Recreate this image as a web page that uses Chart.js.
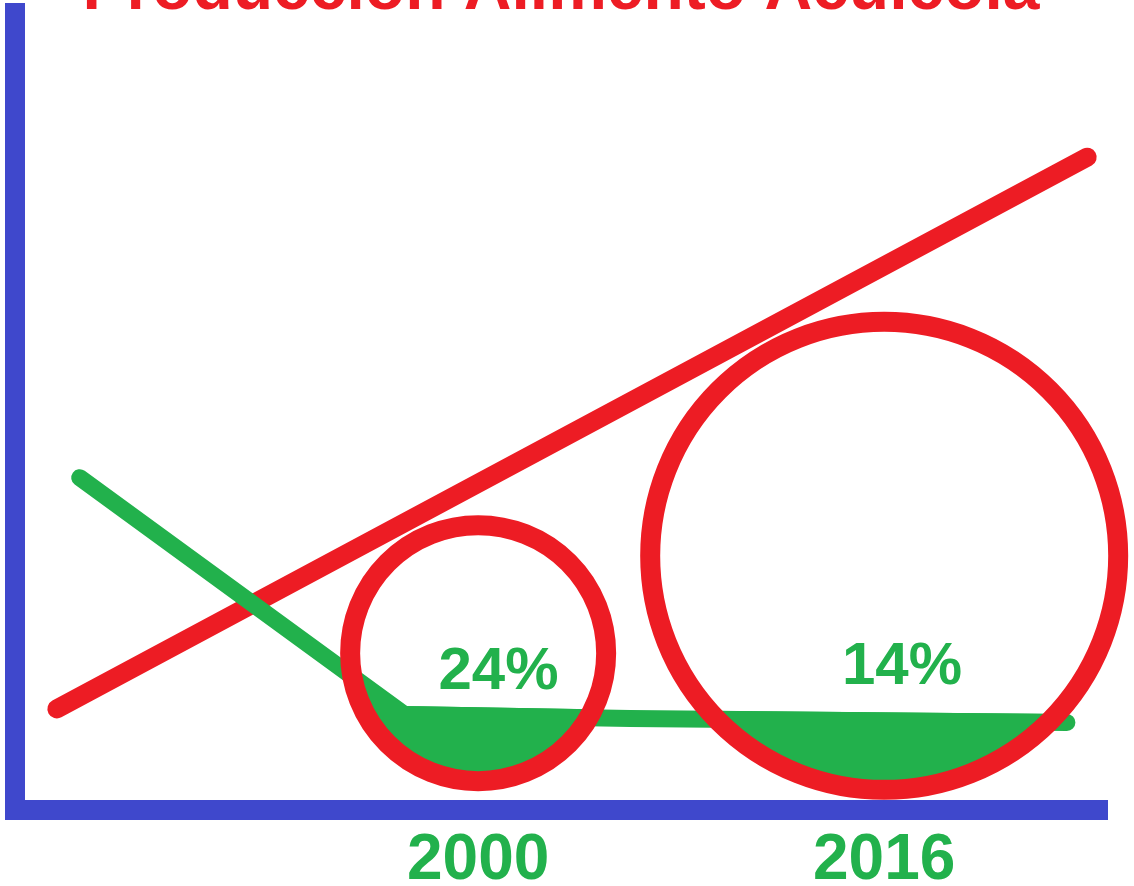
<!DOCTYPE html>
<html>
<head>
<meta charset="utf-8">
<title>Producción Alimento Acuícola</title>
<script src="https://cdn.jsdelivr.net/npm/chart.js@4.4.1/dist/chart.umd.min.js"></script>
<style>
  html, body { margin: 0; padding: 0; background: #fff; overflow: hidden; width: 1134px; height: 886px; }
  #wrap { position: absolute; left: 0; top: -32px; width: 1134px; height: 945px; }
</style>
</head>
<body>
<div id="wrap"><canvas id="graph" width="1134" height="945"></canvas></div>
<script>
const RED = "#ed1c24";
const GREEN = "#22b14c";
const BLUE = "#3f48cc";
const FONT = "'Liberation Sans', Arial, sans-serif";

// x ticks and highlighted years
const tickYears = [2000, 2016];
const circleY = [19.7, 31.9];
const shareLabels = ["24%", "14%"];
const shareX = [2000.8, 2016.7];
const shareY = [17.3, 17.9];

// red trend line (total production)
const trendX = [1983.4, 2024.0];
const trendY = [12.7, 81.9];

// green line (feed share)
const feedX = [1984.3, 1997.1, 2006.0, 2023.2];
const feedY = [41.7, 12.0, 11.5, 11.0];

const toPoints = (xs, ys) => xs.map((x, i) => ({ x: x, y: ys[i] }));

// fills the part of each circle that lies under the green line
const feedFill = {
  id: "feedFill",
  afterDatasetDraw(chart, args) {
    if (args.index !== 1) return;
    const ctx = chart.ctx;
    const feed = chart.getDatasetMeta(1);
    const half = feed.dataset.options.borderWidth / 2;
    const circles = chart.getDatasetMeta(0).data;
    circles.forEach(c => {
      const r = c.options.radius;
      ctx.save();
      ctx.beginPath();
      ctx.arc(c.x, c.y, r, 0, Math.PI * 2);
      ctx.clip();
      ctx.beginPath();
      feed.data.forEach((p, i) => {
        if (i === 0) ctx.moveTo(p.x, p.y - half);
        else ctx.lineTo(p.x, p.y - half);
      });
      const last = feed.data[feed.data.length - 1];
      ctx.lineTo(last.x, c.y + r + 5);
      ctx.lineTo(feed.data[0].x, c.y + r + 5);
      ctx.closePath();
      ctx.fillStyle = GREEN;
      ctx.fill();
      ctx.restore();
    });
  }
};

const shareText = {
  id: "shareText",
  afterDatasetsDraw(chart) {
    const ctx = chart.ctx;
    const xs = chart.scales.x, ys = chart.scales.y;
    ctx.save();
    ctx.font = "bold 60px " + FONT;
    ctx.fillStyle = GREEN;
    ctx.textAlign = "center";
    ctx.textBaseline = "middle";
    shareLabels.forEach((t, i) => {
      ctx.fillText(t, xs.getPixelForValue(shareX[i]), ys.getPixelForValue(shareY[i]));
    });
    ctx.restore();
  }
};

new Chart(document.getElementById("graph"), {
  type: "scatter",
  data: {
    datasets: [
      {
        data: toPoints(tickYears, circleY),
        pointRadius: [128, 234],
        pointHoverRadius: [128, 234],
        pointBorderWidth: 20,
        pointHoverBorderWidth: 20,
        pointBorderColor: RED,
        pointBackgroundColor: "rgba(0,0,0,0)",
        clip: false
      },
      {
        data: toPoints(feedX, feedY),
        showLine: true,
        borderColor: GREEN,
        borderWidth: 17,
        borderCapStyle: "round",
        borderJoinStyle: "round",
        pointRadius: 0,
        clip: false
      },
      {
        data: toPoints(trendX, trendY),
        showLine: true,
        borderColor: RED,
        borderWidth: 19,
        borderCapStyle: "round",
        pointRadius: 0,
        clip: false
      }
    ]
  },
  options: {
    responsive: false,
    animation: false,
    devicePixelRatio: 1,
    events: [],
    layout: { autoPadding: false, padding: { left: 15, right: 27, top: 0, bottom: 0 } },
    plugins: {
      legend: { display: false },
      tooltip: { enabled: false },
      title: {
        display: true,
        text: "Producción Alimento Acuícola",
        color: RED,
        font: { family: FONT, size: 66, weight: "bold", lineHeight: 0.68 },
        padding: 0
      }
    },
    scales: {
      x: {
        type: "linear",
        min: 1981.75,
        max: 2024.78,
        grid: { display: false, drawTicks: false },
        border: { display: true, color: BLUE, width: 20 },
        afterBuildTicks: axis => { axis.ticks = tickYears.map(v => ({ value: v })); },
        ticks: {
          padding: 13,
          color: GREEN,
          font: { family: FONT, size: 64, weight: "bold" },
          callback: v => String(v)
        }
      },
      y: {
        type: "linear",
        min: 0,
        max: 100,
        grid: { display: false, drawTicks: false },
        border: { display: true, color: BLUE, width: 20 },
        ticks: { display: false }
      }
    }
  },
  plugins: [feedFill, shareText]
});
</script>
</body>
</html>
